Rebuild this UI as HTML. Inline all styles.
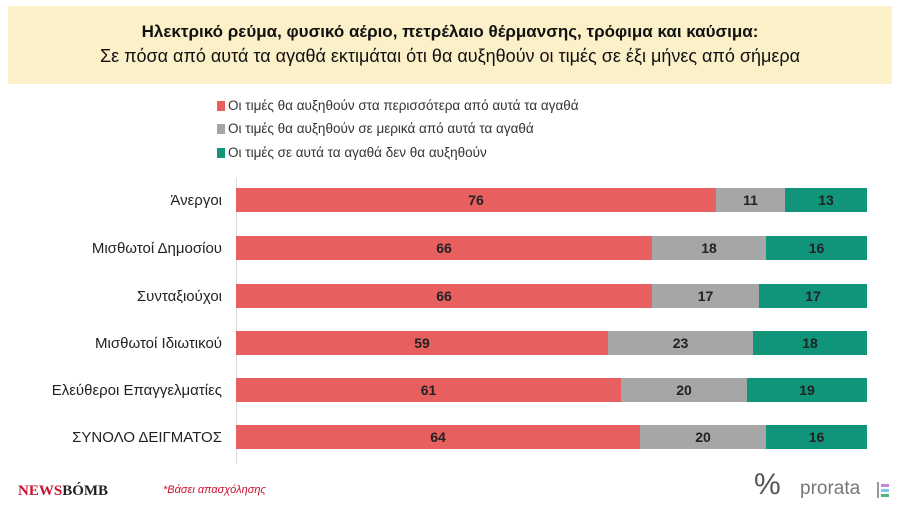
<!DOCTYPE html>
<html><head><meta charset="utf-8"><style>
body{margin:0;width:900px;height:506px;background:#fff;position:relative;overflow:hidden;font-family:"Liberation Sans","DejaVu Sans",sans-serif}
.hdr{position:absolute;left:8px;top:6px;width:884px;height:78px;background:#fcf0c9}
.t1{position:absolute;top:16px;width:100%;text-align:center;font-size:17px;font-weight:bold;color:#111}
.t2{position:absolute;top:40px;width:100%;text-align:center;font-size:18px;color:#111}
.lg{position:absolute;left:217px;font-size:13.5px;color:#333}
.lg i{display:inline-block;width:8px;height:10px;margin-right:3px;vertical-align:-1px}
.lab{position:absolute;right:678px;font-size:15px;color:#222;text-align:right;white-space:nowrap}
.bar{position:absolute;height:24px;display:flex}
.bar div{height:24px;display:flex;align-items:center;justify-content:center;font-weight:bold;font-size:14px;color:#222}
.r{background:#e85f5f}.g{background:#a6a6a6}.t{background:#10957b}
</style></head><body>
<div class="hdr"><div class="t1">Ηλεκτρικό ρεύμα, φυσικό αέριο, πετρέλαιο θέρμανσης, τρόφιμα και καύσιμα:</div>
<div class="t2">Σε πόσα από αυτά τα αγαθά εκτιμάται ότι θα αυξηθούν οι τιμές σε έξι μήνες από σήμερα</div></div>
<div class="lg" style="top:98px"><i style="background:#e85f5f"></i>Οι τιμές θα αυξηθούν στα περισσότερα από αυτά τα αγαθά</div>
<div class="lg" style="top:121px"><i style="background:#a6a6a6"></i>Οι τιμές θα αυξηθούν σε μερικά από αυτά τα αγαθά</div>
<div class="lg" style="top:145px"><i style="background:#10957b"></i>Οι τιμές σε αυτά τα αγαθά δεν θα αυξηθούν</div>
<div style="position:absolute;left:236px;top:178px;width:1px;height:286px;background:#ddd"></div>

<div class="lab" style="top:192px">Άνεργοι</div>
<div class="bar" style="left:236px;top:188px"><div class="r" style="width:480px">76</div><div class="g" style="width:69px">11</div><div class="t" style="width:82px">13</div></div>
<div class="lab" style="top:240px">Μισθωτοί Δημοσίου</div>
<div class="bar" style="left:236px;top:236px"><div class="r" style="width:416px">66</div><div class="g" style="width:114px">18</div><div class="t" style="width:101px">16</div></div>
<div class="lab" style="top:288px">Συνταξιούχοι</div>
<div class="bar" style="left:236px;top:284px"><div class="r" style="width:416px">66</div><div class="g" style="width:107px">17</div><div class="t" style="width:108px">17</div></div>
<div class="lab" style="top:335px">Μισθωτοί Ιδιωτικού</div>
<div class="bar" style="left:236px;top:331px"><div class="r" style="width:372px">59</div><div class="g" style="width:145px">23</div><div class="t" style="width:114px">18</div></div>
<div class="lab" style="top:382px">Ελεύθεροι Επαγγελματίες</div>
<div class="bar" style="left:236px;top:378px"><div class="r" style="width:385px">61</div><div class="g" style="width:126px">20</div><div class="t" style="width:120px">19</div></div>
<div class="lab" style="top:429px">ΣΥΝΟΛΟ ΔΕΙΓΜΑΤΟΣ</div>
<div class="bar" style="left:236px;top:425px"><div class="r" style="width:404px">64</div><div class="g" style="width:126px">20</div><div class="t" style="width:101px">16</div></div>

<div style="position:absolute;left:18px;top:483px;font-family:'Liberation Serif',serif;font-weight:bold;font-size:15px;color:#c8102e">NEWS<span style="color:#222">BÓMB</span></div>
<div style="position:absolute;left:163px;top:484px;font-size:11px;font-style:italic;color:#c8102e">*Βάσει απασχόλησης</div>
<div style="position:absolute;left:754px;top:468px;font-size:30px;color:#555">%</div>
<div style="position:absolute;left:800px;top:478px;font-size:19px;color:#777">prorata</div>
<div style="position:absolute;left:877px;top:482px;width:2px;height:16px;background:#999"></div>
<div style="position:absolute;left:881px;top:484px;width:8px;height:3px;background:#c08ad8"></div>
<div style="position:absolute;left:881px;top:489px;width:8px;height:3px;background:#7fc8e8"></div>
<div style="position:absolute;left:881px;top:494px;width:8px;height:3px;background:#4cb87a"></div>
</body></html>
